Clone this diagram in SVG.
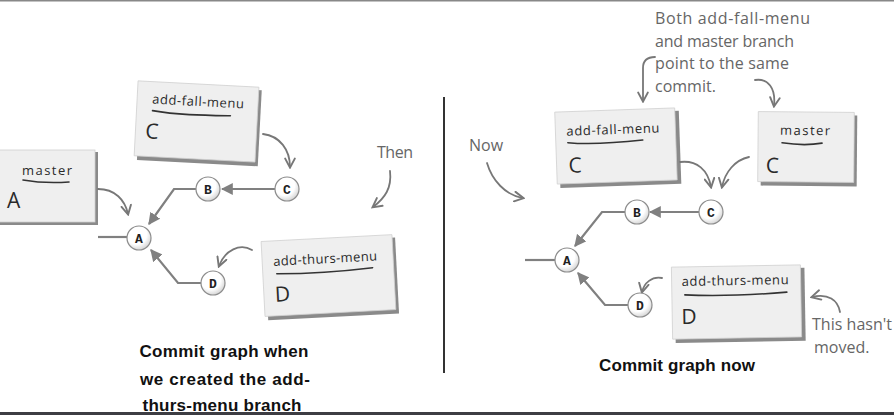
<svg xmlns="http://www.w3.org/2000/svg" width="894" height="415" viewBox="0 0 894 415">
<style>
.card{fill:#efefef;stroke:#d0d0d0;stroke-width:0.8}
.shadow{fill:#8a8a8a}
.lbl{font-family:"Open Sans","DejaVu Sans",sans-serif;font-size:13px;fill:#2a2a2a}
.big{font-family:"Open Sans","DejaVu Sans",sans-serif;font-size:21px;fill:#2a2a2a}
.ul{fill:none;stroke:#333;stroke-width:1.6;stroke-linecap:round}
.note{font-family:"Open Sans","DejaVu Sans",sans-serif;font-size:16px;fill:#666}
.hand{fill:none;stroke:#777;stroke-width:1.8;stroke-linecap:round}
.conn{fill:none;stroke:#808080;stroke-width:2.2}
.node circle{fill:url(#g);stroke:#8c8c8c;stroke-width:1.2}
.node text{font-family:"Liberation Mono","Courier New",monospace;font-weight:bold;font-size:13px;fill:#222;text-anchor:middle}
.cap{font-family:"Liberation Sans",Arial,sans-serif;font-weight:bold;font-size:17px;fill:#111;text-anchor:middle}
</style>
<defs>
<radialGradient id="g" cx="0.4" cy="0.35" r="0.7">
<stop offset="0.6" stop-color="#ffffff"/>
<stop offset="1" stop-color="#cfcfcf"/>
</radialGradient>
<marker id="tri" markerUnits="userSpaceOnUse" markerWidth="12" markerHeight="12" refX="9" refY="5" orient="auto" viewBox="0 0 10 10">
<path d="M0,0 L10,5 L0,10 z" fill="#808080"/>
</marker>
<marker id="chev" markerUnits="userSpaceOnUse" markerWidth="12" markerHeight="12" refX="8" refY="5" orient="auto" viewBox="0 0 10 10">
<path d="M1,1 L8.5,5 L1,9" fill="none" stroke="#777" stroke-width="1.6" stroke-linecap="round"/>
</marker>
</defs>
<rect x="0" y="0" width="894" height="415" fill="#ffffff"/>
<rect x="0" y="0" width="894" height="1.5" fill="#888"/>
<rect x="0" y="412" width="894" height="3" fill="#3d3d43"/>
<line x1="444" y1="97" x2="444" y2="373" stroke="#333" stroke-width="2"/>

<!-- Left panel cards -->
<g id="left-master">
<rect class="shadow" x="-10" y="152" width="108" height="73"/>
<rect class="card" x="-10" y="150" width="105" height="72"/>
<text class="lbl" x="22" y="175" textLength="50">master</text>
<path class="ul" d="M23,180 C40,183 55,183 69,182"/>
<text class="big" x="7" y="208">A</text>
</g>
<g id="left-add-fall-menu" transform="translate(197,122) rotate(3)">
<rect class="shadow" x="-58" y="-35" width="121" height="76"/>
<rect class="card" x="-61" y="-38" width="121" height="75"/>
<text class="lbl" x="-46" y="-16" textLength="92">add-fall-menu</text>
<path class="ul" d="M-45,-9 C-20,-6 5,-7 33,-8"/>
<text class="big" x="-51" y="19">C</text>
</g>
<g id="left-add-thurs-menu" transform="translate(329,276) rotate(-3)">
<rect class="shadow" x="-63" y="-35" width="131" height="76"/>
<rect class="card" x="-66" y="-38" width="131" height="75"/>
<text class="lbl" x="-55" y="-13" textLength="104">add-thurs-menu</text>
<path class="ul" d="M-52,-5 C-15,-3 15,-4 44,-6"/>
<text class="big" x="-55" y="23">D</text>
</g>
<text id="then" class="note" x="377" y="158" textLength="36">Then</text>

<!-- Right panel cards -->
<g id="right-add-fall-menu" transform="translate(616,147) rotate(-2)">
<rect class="shadow" x="-57" y="-34" width="121" height="73"/>
<rect class="card" x="-60" y="-37" width="120" height="72"/>
<text class="lbl" x="-49" y="-13" textLength="93">add-fall-menu</text>
<path class="ul" d="M-48,-6 C-25,-3 0,-4 27,-6"/>
<text class="big" x="-48" y="24">C</text>
</g>
<g id="right-master" transform="translate(806,147) rotate(0.5)">
<rect class="shadow" x="-45" y="-32" width="96" height="71"/>
<rect class="card" x="-48" y="-35" width="96" height="70"/>
<text class="lbl" x="-26" y="-12" textLength="50">master</text>
<path class="ul" d="M-24,-4 C-10,-2 5,-2 16,-4"/>
<text class="big" x="-40" y="26">C</text>
</g>
<g id="right-add-thurs-menu" transform="translate(737,302) rotate(-1)">
<rect class="shadow" x="-62" y="-33" width="130" height="73"/>
<rect class="card" x="-65" y="-36" width="129" height="72"/>
<text class="lbl" x="-55" y="-17" textLength="107">add-thurs-menu</text>
<path class="ul" d="M-52,-8 C-20,-6 20,-7 50,-9"/>
<text class="big" x="-56" y="21">D</text>
</g>
<g id="note-both" class="note">
<text x="655" y="24" textLength="155">Both add-fall-menu</text>
<text x="655" y="47" textLength="139">and master branch</text>
<text x="655" y="69" textLength="134">point to the same</text>
<text x="655" y="92">commit.</text>
</g>
<text id="now" class="note" x="469" y="151">Now</text>
<g id="note-hasnt" class="note">
<text x="812" y="330" textLength="80">This hasn't</text>
<text x="814" y="353">moved.</text>
</g>

<!-- Connectors -->
<g id="connectors">
<path class="conn" d="M275,189 L222,189" marker-end="url(#tri)"/>
<path class="conn" d="M196,189 L174,189 L149,224" marker-end="url(#tri)"/>
<path class="conn" d="M201,283 L178,283 L151,250" marker-end="url(#tri)"/>
<path class="conn" d="M98,237 L127,237"/>
<path class="conn" d="M699,212 L650,212" marker-end="url(#tri)"/>
<path class="conn" d="M625,212 L602,212 L575,246" marker-end="url(#tri)"/>
<path class="conn" d="M628,305 L605,305 L578,273" marker-end="url(#tri)"/>
<path class="conn" d="M525,260 L555,260"/>
<path class="hand" d="M263,134 C280,136 290,150 290,167" marker-end="url(#chev)"/>
<path class="hand" d="M98,189 C115,189 125,200 128,214" marker-end="url(#chev)"/>
<path class="hand" d="M390,171 C392,188 385,198 373,207" marker-end="url(#chev)"/>
<path class="hand" d="M252,250 C240,243 225,250 219,266" marker-end="url(#chev)"/>
<path class="hand" d="M655,57 C646,57 643,62 643,68 L643,101" marker-end="url(#chev)"/>
<path class="hand" d="M755,80 C768,78 776,88 774,106" marker-end="url(#chev)"/>
<path class="hand" d="M680,162 C697,160 708,170 711,187" marker-end="url(#chev)"/>
<path class="hand" d="M749,157 C735,160 725,172 722,187" marker-end="url(#chev)"/>
<path class="hand" d="M487,163 C492,180 505,195 523,198" marker-end="url(#chev)"/>
<path class="hand" d="M662,278 C652,276 644,283 642,292" marker-end="url(#chev)"/>
<path class="hand" d="M840,312 C838,300 828,293 812,297" marker-end="url(#chev)"/>
</g>

<!-- Commit nodes -->
<g id="left-C" class="node"><circle cx="287" cy="189" r="12"/><text x="287" y="193.5">C</text></g>
<g id="left-B" class="node"><circle cx="208" cy="189" r="12"/><text x="208" y="193.5">B</text></g>
<g id="left-A" class="node"><circle cx="139" cy="238" r="12"/><text x="139" y="242.5">A</text></g>
<g id="left-D" class="node"><circle cx="213" cy="283" r="12"/><text x="213" y="287.5">D</text></g>
<g id="right-C" class="node"><circle cx="711" cy="212" r="12"/><text x="711" y="216.5">C</text></g>
<g id="right-B" class="node"><circle cx="637" cy="212" r="12"/><text x="637" y="216.5">B</text></g>
<g id="right-A" class="node"><circle cx="567" cy="260" r="12"/><text x="567" y="264.5">A</text></g>
<g id="right-D" class="node"><circle cx="640" cy="305" r="12"/><text x="640" y="309.5">D</text></g>

<!-- Captions -->
<g id="caption-left" class="cap">
<text x="224" y="357" textLength="169">Commit graph when</text>
<text x="225" y="385" textLength="170">we created the add-</text>
<text x="222" y="411" textLength="159">thurs-menu branch</text>
</g>
<text id="caption-right" class="cap" x="677" y="371" textLength="156">Commit graph now</text>
</svg>
